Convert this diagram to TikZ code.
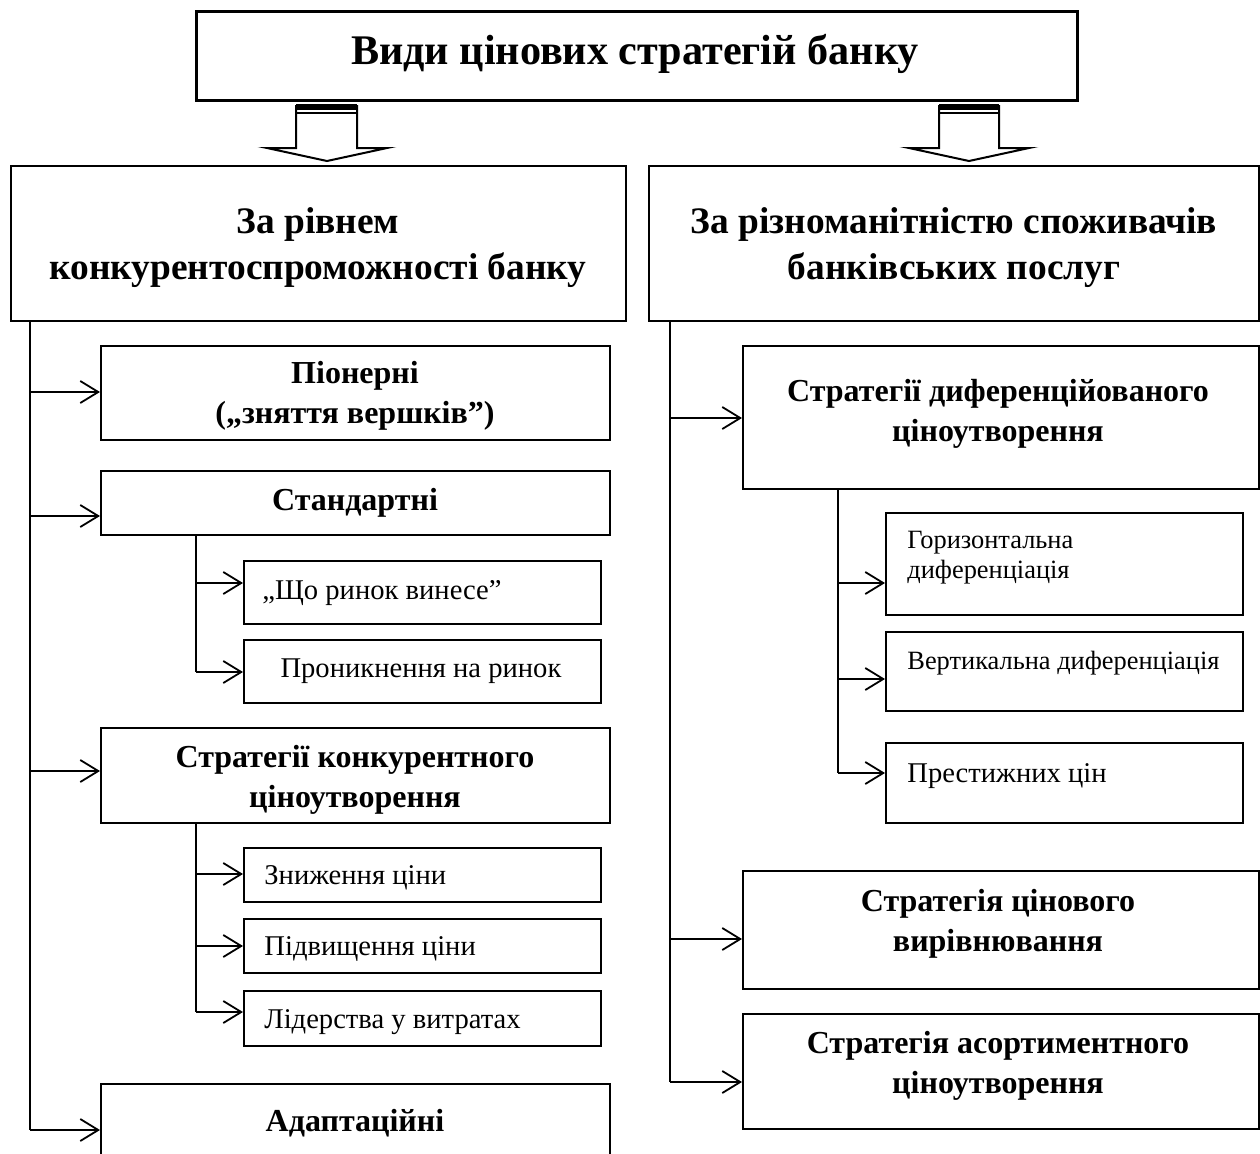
\documentclass[tikz,border=0pt]{standalone}
\usepackage{fontspec}
\setmainfont{Liberation Serif}
\usetikzlibrary{arrows.meta}
\newcommand\mybox[5]{\node[box,minimum width={(#4-#2)*0.5pt},minimum height={(#5-#3)*0.5pt}] (#1) at (#2,#3) {};}
\begin{document}
\begin{tikzpicture}[x=0.5pt,y=-0.5pt,
  box/.style={draw,line width=1.1pt,inner sep=0pt,anchor=north west},
  conn/.style={line width=0.9pt},
  arr/.style={conn,-{Straight Barb[length=9pt,width=11pt]}},
  ttl/.style={font=\bfseries\fontsize{21.1}{24}\selectfont,align=center,inner sep=0pt},
  hd/.style={font=\bfseries\fontsize{18.7}{23}\selectfont,align=center,inner sep=0pt},
  sh/.style={font=\bfseries\fontsize{16}{20}\selectfont,align=center,inner sep=0pt},
  tx/.style={font=\fontsize{14.3}{15.5}\selectfont,align=left,inner sep=0pt,anchor=west},
  txs/.style={font=\fontsize{13.2}{15}\selectfont,align=left,inner sep=0pt,anchor=west},
  txc/.style={font=\fontsize{14.3}{15.5}\selectfont,align=center,inner sep=0pt},
  bigarrow/.style={draw,line width=1pt,fill=white,line join=miter}
]
\clip (0,0) rectangle (1260,1153);
\fill[white] (0,0) rectangle (1260,1153);

% title
\node[box,line width=1.4pt,minimum width={881*0.5pt},minimum height={89*0.5pt}] (T) at (195,10) {};
\node[ttl] (tT) at (635,54) {Види цінових стратегій банку};

% big arrows
\draw[bigarrow] (296,148) -- (296,106) -- (357,106) -- (357,148) -- (387,148) -- (327,161) -- (267,148) -- cycle;
\fill (296,104) rectangle (357,110);
\draw[line width=1pt] (296,113) -- (357,113);
\draw[bigarrow] (939,148) -- (939,106) -- (999,106) -- (999,148) -- (1029,148) -- (969,161) -- (909,148) -- cycle;
\fill (939,104) rectangle (999,110);
\draw[line width=1pt] (939,113) -- (999,113);

% headings
\mybox{L}{10}{165}{625}{320}
\node[hd] (tL) at (318,248) {За рівнем\\конкурентоспроможності банку};
\mybox{R}{648}{165}{1258}{320}
\node[hd] (tR) at (954,248) {За різноманітністю споживачів\\банківських послуг};

% left column boxes
\mybox{P}{100}{345}{609}{439}
\node[sh] (tP) at (355,396) {Піонерні\\(„зняття вершків”)};
\mybox{S}{100}{470}{609}{534}
\node[sh] (tS) at (355,503) {Стандартні};
\mybox{S1}{243}{560}{600}{623}
\node[tx] (tS1) at (262,593) {„Що ринок винесе”};
\mybox{S2}{243}{639}{600}{702}
\node[txc] (tS2) at (421,671) {Проникнення на ринок};
\mybox{K}{100}{727}{609}{822}
\node[sh] (tK) at (355,780) {Стратегії конкурентного\\ціноутворення};
\mybox{K1}{243}{847}{600}{901}
\node[tx] (tK1) at (264,878) {Зниження ціни};
\mybox{K2}{243}{918}{600}{972}
\node[tx] (tK2) at (264,949) {Підвищення ціни};
\mybox{K3}{243}{990}{600}{1045}
\node[tx] (tK3) at (264,1022) {Лідерства у витратах};
\mybox{A}{100}{1083}{609}{1180}
\node[sh] (tA) at (355,1123) {Адаптаційні};

% right column boxes
\mybox{D}{742}{345}{1258}{488}
\node[sh] (tD) at (998,414) {Стратегії диференційованого\\ціноутворення};
\mybox{D1}{885}{512}{1242}{614}
\node[txs] (tD1) at (907,558) {Горизонтальна\\диференціація};
\mybox{D2}{885}{631}{1242}{710}
\node[txs] (tD2) at (907,663) {Вертикальна диференціація};
\mybox{D3}{885}{742}{1242}{822}
\node[tx] (tD3) at (907,776) {Престижних цін};
\mybox{V}{742}{870}{1258}{988}
\node[sh] (tV) at (998,924) {Стратегія цінового\\вирівнювання};
\mybox{As}{742}{1013}{1258}{1128}
\node[sh] (tAs) at (998,1066) {Стратегія асортиментного\\ціноутворення};

% left trunk
\coordinate (lt) at (30,320);
\coordinate (la1) at (30,392);
\coordinate (la2) at (30,516);
\coordinate (la3) at (30,771);
\coordinate (la4) at (30,1130);
\draw[conn] (lt) -- (la4);
\draw[arr] (la1) -- (la1 -| P.west);
\draw[arr] (la2) -- (la2 -| S.west);
\draw[arr] (la3) -- (la3 -| K.west);
\draw[arr] (la4) -- (la4 -| A.west);

% standard sub-trunk
\coordinate (st) at (196,534);
\coordinate (sa1) at (196,583);
\coordinate (sa2) at (196,672);
\draw[conn] (st) -- (sa2);
\draw[arr] (sa1) -- (sa1 -| S1.west);
\draw[arr] (sa2) -- (sa2 -| S2.west);

% competitive sub-trunk
\coordinate (kt) at (196,822);
\coordinate (ka1) at (196,874);
\coordinate (ka2) at (196,946);
\coordinate (ka3) at (196,1012);
\draw[conn] (kt) -- (ka3);
\draw[arr] (ka1) -- (ka1 -| K1.west);
\draw[arr] (ka2) -- (ka2 -| K2.west);
\draw[arr] (ka3) -- (ka3 -| K3.west);

% right trunk
\coordinate (rt) at (670,320);
\coordinate (ra1) at (670,418);
\coordinate (ra2) at (670,939);
\coordinate (ra3) at (670,1082);
\draw[conn] (rt) -- (ra3);
\draw[arr] (ra1) -- (ra1 -| D.west);
\draw[arr] (ra2) -- (ra2 -| V.west);
\draw[arr] (ra3) -- (ra3 -| As.west);

% differentiated sub-trunk
\coordinate (dt) at (838,488);
\coordinate (da1) at (838,583);
\coordinate (da2) at (838,679);
\coordinate (da3) at (838,773);
\draw[conn] (dt) -- (da3);
\draw[arr] (da1) -- (da1 -| D1.west);
\draw[arr] (da2) -- (da2 -| D2.west);
\draw[arr] (da3) -- (da3 -| D3.west);
\end{tikzpicture}
\end{document}
